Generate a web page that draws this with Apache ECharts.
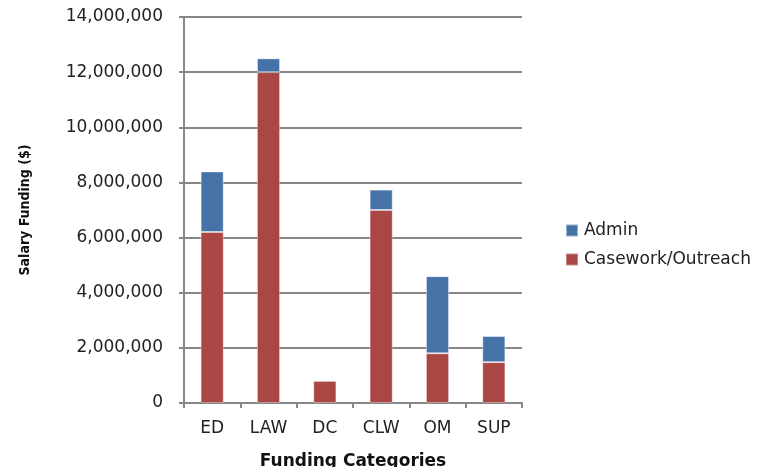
<!DOCTYPE html>
<html>
<head>
<meta charset="utf-8">
<script src="https://cdn.jsdelivr.net/npm/echarts@6/dist/echarts.min.js"></script>
<style>
  html, body { margin: 0; padding: 0; background: #fff; }
  #chart { width: 772px; height: 467px; }
</style>
</head>
<body>
<div id="chart"></div>
<script>
// Salary funding by category, split into casework/outreach and admin
const categories = ['ED', 'LAW', 'DC', 'CLW', 'OM', 'SUP'];
const casework = [6200000, 12000000, 800000, 7000000, 1800000, 1480000];
const admin = [2200000, 500000, 40000, 740000, 2800000, 950000];
const yTicks = { min: 0, max: 14000000, interval: 2000000 };

const chart = echarts.init(document.getElementById('chart'));
const gray = '#878787';
const textFont = 'DejaVu Sans';

chart.setOption({
  animation: false,
  backgroundColor: '#ffffff',
  grid: {
    left: 184, right: 250, top: 17, bottom: 64,
    containLabel: false, outerBoundsMode: 'none'
  },
  legend: {
    orient: 'vertical',
    left: 560,
    top: 217,
    itemWidth: 12,
    itemHeight: 12,
    itemGap: 12,
    icon: 'rect',
    data: ['Admin', 'Casework/Outreach'],
    textStyle: { fontFamily: textFont, fontSize: 17, color: '#222', padding: [0, 0, 0, 1] }
  },
  xAxis: {
    type: 'category',
    data: categories,
    name: 'Funding Categories',
    nameLocation: 'middle',
    nameGap: 50,
    nameTextStyle: { fontFamily: textFont, fontWeight: 'bold', fontSize: 17, color: '#111' },
    axisLine: { lineStyle: { color: gray, width: 2 } },
    axisTick: { show: true, length: 5, lineStyle: { color: gray, width: 2 } },
    axisLabel: { fontFamily: textFont, fontSize: 17, color: '#222', margin: 17 }
  },
  yAxis: {
    type: 'value',
    min: yTicks.min,
    max: yTicks.max,
    interval: yTicks.interval,
    name: 'Salary Funding ($)',
    nameLocation: 'middle',
    nameGap: 152,
    nameRotate: 90,
    nameTextStyle: { fontFamily: 'DejaVu Sans Condensed', fontWeight: 'bold', fontSize: 14, color: '#111' },
    axisLine: { show: true, lineStyle: { color: gray, width: 2 } },
    axisTick: { show: true, length: 5, lineStyle: { color: gray, width: 2 } },
    splitLine: { lineStyle: { color: gray, width: 2 } },
    axisLabel: {
      fontFamily: textFont, fontSize: 17, color: '#222', margin: 21,
      formatter: v => v.toLocaleString('en-US')
    }
  },
  series: [
    {
      name: 'Casework/Outreach',
      type: 'bar',
      stack: 'total',
      data: casework,
      barWidth: '41%',
      itemStyle: { color: '#AA4643', borderColor: 'rgba(255,255,255,0.35)', borderWidth: 1 }
    },
    {
      name: 'Admin',
      type: 'bar',
      stack: 'total',
      data: admin,
      barWidth: '41%',
      itemStyle: { color: '#4572A7', borderColor: 'rgba(255,255,255,0.45)', borderWidth: 1 }
    }
  ]
});
</script>
</body>
</html>
